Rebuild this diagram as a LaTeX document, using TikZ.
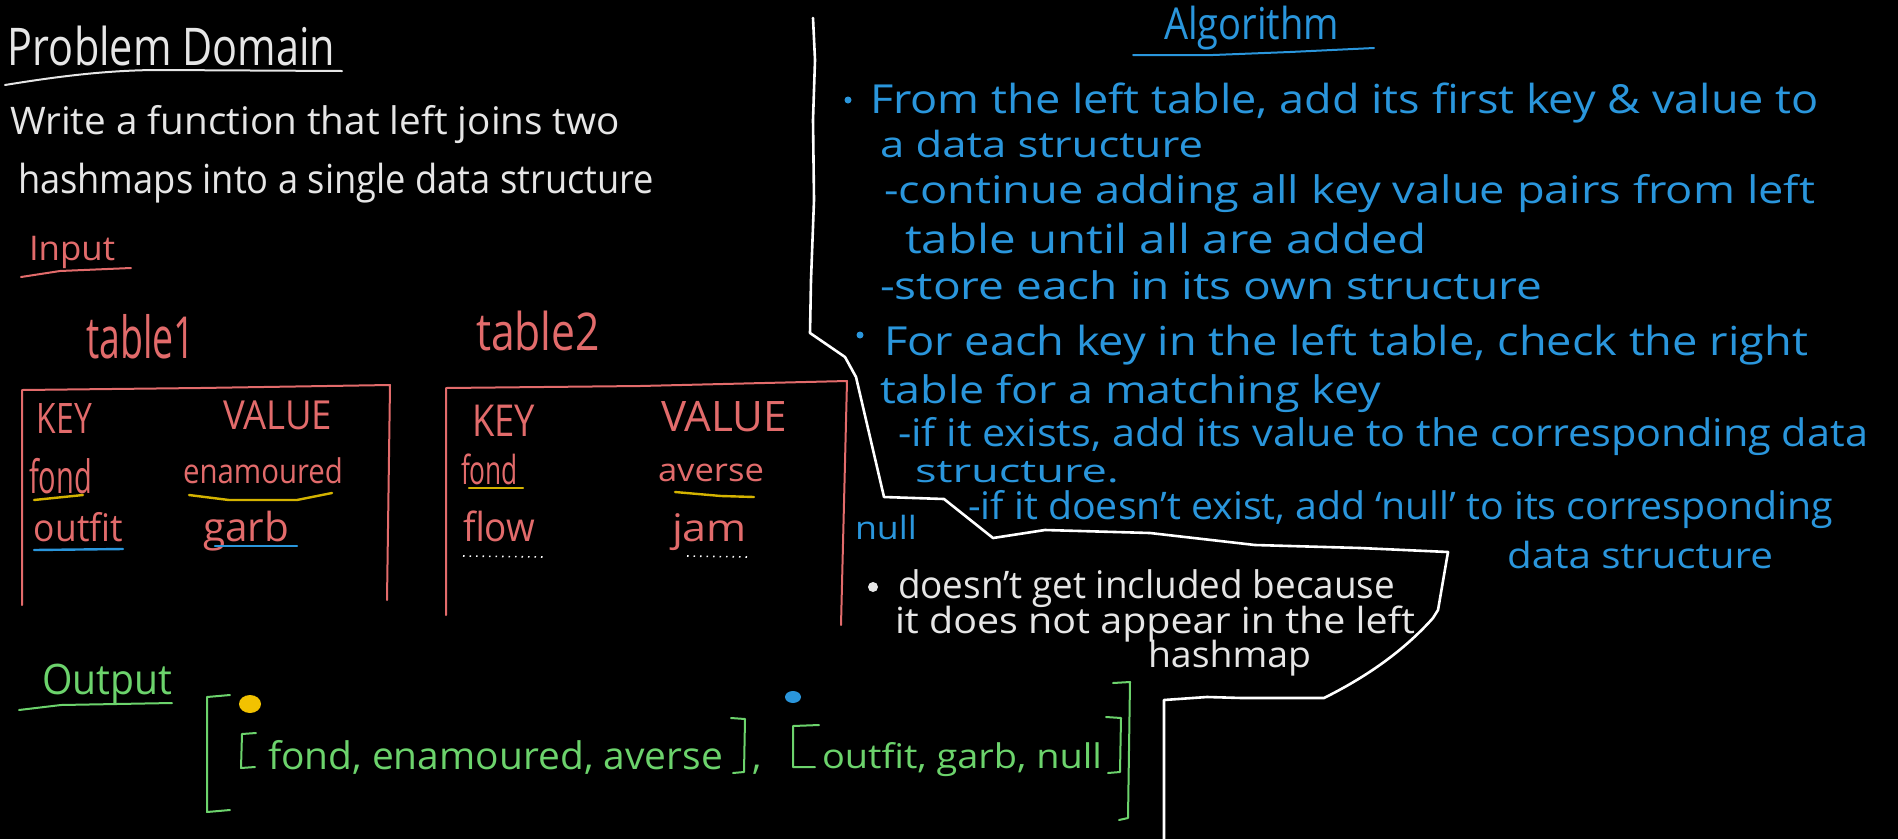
\documentclass[tikz,border=0pt]{standalone}
\usepackage{fontspec}
\setmainfont{Open Sans}
\usepackage{graphicx}
\definecolor{chalk}{HTML}{E6E6E6}
\definecolor{rd}{HTML}{E26B6B}
\definecolor{yl}{HTML}{D4B300}
\definecolor{ydot}{HTML}{F2C200}
\definecolor{bl}{HTML}{2A96DC}
\definecolor{gr}{HTML}{6CD36C}
\newcommand{\hw}[3]{\resizebox{#1pt}{\height}{\fontsize{#2}{#2}\selectfont #3}}
\tikzset{
  txt/.style={anchor=base west, inner sep=0pt, outer sep=0pt},
  wtxt/.style={txt, text=chalk},
  rtxt/.style={txt, text=rd},
  btxt/.style={txt, text=bl},
  gtxt/.style={txt, text=gr},
  ink/.style={line width=2pt, line cap=round, line join=round},
  divider/.style={ink, white, line width=2.6pt},
  tablebox/.style={ink, rd},
  yline/.style={ink, yl, line width=2.4pt},
  bline/.style={ink, bl, line width=2.4pt},
  dots/.style={white, line width=1.6pt, dash pattern=on 1.5pt off 5pt},
  bracket/.style={ink, gr},
}
\begin{document}
\begin{tikzpicture}[x=1pt, y=-1pt]
\fill[black] (0,0) rectangle (1898,839);
\useasboundingbox (0,0) rectangle (1898,839);

% ---------- Problem domain ----------
\node[wtxt] (pd) at (8,65) {\hw{327}{52}{Problem Domain}};
\draw[ink, chalk] (5,85) .. controls (60,76) and (110,70) .. (160,70) -- (342,71);
\node[wtxt] (w1) at (10,134) {\hw{610}{38}{Write a function that left joins two}};
\node[wtxt] (w2) at (18,193) {\hw{636}{40}{hashmaps into a single data structure}};

\node[rtxt] (inp) at (29,260) {\hw{86}{34}{Input}};
\draw[ink, rd] (21,277) -- (60,271) -- (131,268);

% ---------- tables ----------
\node[rtxt] (t1) at (86,358) {\hw{109}{58}{table1}};
\node[rtxt] (t2) at (476,350) {\hw{124}{52}{table2}};

\draw[tablebox] (22,605) -- (22,390) -- (200,388) -- (390,385) -- (387,600);
\draw[tablebox] (446,615) -- (446,388) -- (640,386) -- (847,381) -- (841,625);

\node[rtxt] (k1) at (37,433) {\hw{55}{42}{KEY}};
\node[rtxt] (v1) at (223,429) {\hw{109}{40}{VALUE}};
\node[rtxt] (f1) at (29,493) {\hw{63}{46}{fond}};
\node[rtxt] (e1) at (183,483) {\hw{160}{34}{enamoured}};
\node[rtxt] (o1) at (34,541) {\hw{89}{38}{outfit}};
\node[rtxt] (g1) at (203,541) {\hw{86}{40}{garb}};
\draw[yline] (34,500) -- (83,495);
\draw[yline] (189,495) -- (229,500) -- (297,500) -- (332,493);
\draw[bline] (34,550) -- (123,549);
\draw[bline] (215,546) -- (297,546);

\node[rtxt] (k2) at (472,436) {\hw{63}{44}{KEY}};
\node[rtxt] (v2) at (661,431) {\hw{126}{42}{VALUE}};
\node[rtxt] (f2) at (461,484) {\hw{57}{40}{fond}};
\node[rtxt] (a2) at (658,481) {\hw{106}{32}{averse}};
\node[rtxt] (fl2) at (463,541) {\hw{72}{40}{flow}};
\node[rtxt] (j2) at (672,541) {\hw{75}{38}{jam}};
\draw[yline] (469,488) -- (523,488);
\draw[yline] (675,492) -- (721,496) -- (754,497);
\draw[dots] (463,556) -- (543,557);
\draw[dots] (687,556) -- (747,557);

% ---------- divider ----------
\draw[divider] (813,18) -- (815,60) -- (813,120) -- (814,200) -- (811,280) -- (810,333)
  -- (845,357) -- (856,377) -- (884,497) -- (944,499) -- (993,538) -- (1045,530)
  -- (1150,533) -- (1255,545) -- (1360,548) -- (1448,552) -- (1438,610) -- (1433,618)
  .. controls (1400,655) and (1360,680) .. (1324,698) -- (1242,698) -- (1207,697)
  -- (1164,700) -- (1164,839);

% ---------- algorithm ----------
\node[btxt] (alg) at (1164,39) {\hw{175}{44}{Algorithm}};
\draw[bline, line width=2pt] (1133,55) -- (1213,55) -- (1290,52) -- (1374,48);

\fill[bl] (848,100) circle (3.5);
\node[btxt] (l1) at (870,113) {\hw{949}{40}{From the left table, add its first key \& value to}};
\node[btxt] (l2) at (880,157) {\hw{323}{36}{a data structure}};
\node[btxt] (l3) at (884,203) {\hw{931}{38}{-continue adding all key value pairs from left}};
\node[btxt] (l4) at (905,253) {\hw{522}{40}{table until all are added}};
\node[btxt] (l5) at (880,299) {\hw{662}{38}{-store each in its own structure}};

\fill[bl] (860,335) circle (3.5);
\node[btxt] (m1) at (884,355) {\hw{924}{40}{For each key in the left table, check the right}};
\node[btxt] (m2) at (880,403) {\hw{501}{38}{table for a matching key}};
\node[btxt] (m3) at (898,446) {\hw{970}{38}{-if it exists, add its value to the corresponding data}};
\node[btxt] (m4) at (915,482) {\hw{204}{32}{structure.}};
\node[btxt] (m5) at (968,519) {\hw{865}{38}{-if it doesn't exist, add ‘null’ to its corresponding}};
\node[btxt] (m6) at (1507,568) {\hw{266}{36}{data structure}};

\node[btxt] (nul) at (855,539) {\hw{62}{32}{null}};
\fill[chalk] (873,587) circle (5);
\node[wtxt] (n1) at (898,598) {\hw{497}{38}{doesn't get included because}};
\node[wtxt] (n2) at (895,633) {\hw{520}{36}{it does not appear in the left}};
\node[wtxt] (n3) at (1148,667) {\hw{163}{36}{hashmap}};

% ---------- output ----------
\node[gtxt] (out) at (42,694) {\hw{130}{42}{Output}};
\draw[ink, gr] (19,710) -- (61,705) -- (172,703);

\draw[bracket] (230,695) -- (207,697) -- (207,812) -- (230,810);
\draw[bracket] (1113,683) -- (1130,682) -- (1128,818) -- (1119,820);
\fill[ydot] (250,704) ellipse (11 and 9);
\fill[bl] (793,697) ellipse (8 and 6);

\draw[bracket] (256,733) -- (242,734) -- (241,768) -- (255,767);
\node[gtxt] (o1t) at (268,769) {\hw{455}{38}{fond, enamoured, averse}};
\draw[bracket] (731,718) -- (745,719) -- (744,772) -- (733,773);
\node[gtxt] (cm) at (752,769) {\fontsize{38}{38}\selectfont ,};
\draw[bracket] (819,725) -- (793,726) -- (793,767) -- (815,767);
\node[gtxt] (o2t) at (822,768) {\hw{280}{34}{outfit, garb, null}};
\draw[bracket] (1106,717) -- (1121,718) -- (1120,772) -- (1108,773);
\end{tikzpicture}
\end{document}
